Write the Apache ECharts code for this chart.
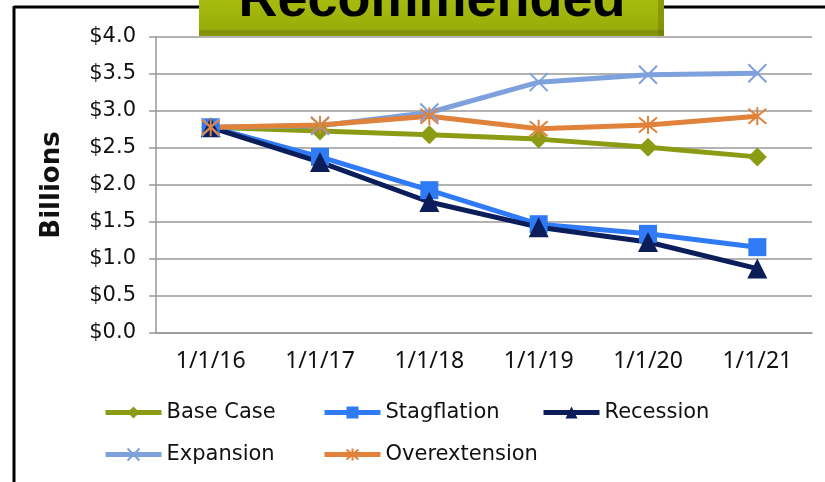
<!DOCTYPE html>
<html><head><meta charset="utf-8">
<script src="https://cdn.jsdelivr.net/npm/echarts@6/dist/echarts.min.js"></script>
<style>html,body{margin:0;padding:0;background:#fff}#c{width:825px;height:482px}</style>
</head><body><div id="c"></div>
<script>
const categories = ['1/1/16','1/1/17','1/1/18','1/1/19','1/1/20','1/1/21'];
const baseCase = [2.78, 2.73, 2.68, 2.62, 2.51, 2.38];
const stagflation = [2.78, 2.38, 1.93, 1.47, 1.34, 1.16];
const recession = [2.78, 2.31, 1.77, 1.43, 1.23, 0.87];
const expansion = [2.78, 2.80, 2.98, 3.39, 3.49, 3.51];
const overextension = [2.78, 2.81, 2.93, 2.76, 2.81, 2.93];
const seriesNames = ['Base Case', 'Stagflation', 'Recession', 'Expansion', 'Overextension'];
const yTicks = {min: 0, max: 4, interval: 0.5};

const FONT = 'DejaVu Sans';
const xPath = 'path://M0,0L10,10M10,0L0,10';
const starPath = 'path://M0,0L10,10M10,0L0,10M5,-1L5,11';

function mk(name, data, color, symbol, size, stroke) {
  return {
    name, type: 'line', data, symbol, symbolSize: size,
    lineStyle: {color, width: 5},
    itemStyle: stroke ? {color: 'none', borderColor: color, borderWidth: 2} : {color},
    z: 2
  };
}
const legendPos = [[103, 402], [322, 402], [541, 402], [103, 444], [322, 444]];
const legends = seriesNames.map((n, i) => ({
  data: [n], left: legendPos[i][0], top: legendPos[i][1], itemWidth: 56, itemHeight: 15, itemGap: 0,
  lineStyle: {width: 5}, textStyle: {fontFamily: FONT, fontSize: 21, color: '#111'}, padding: 0
}));

const chart = echarts.init(document.getElementById('c'), null, {renderer: 'canvas'});
chart.setOption({
  animation: false,
  grid: {left: 156, right: 13, top: 37, bottom: 149},
  xAxis: {
    type: 'category', data: categories, boundaryGap: true,
    axisLine: {lineStyle: {color: '#999', width: 1.5}},
    axisTick: {length: 7, lineStyle: {color: '#999', width: 1.5}},
    axisLabel: {color: '#111', fontFamily: 'Noto Sans', fontSize: 23, margin: 17}
  },
  yAxis: {
    type: 'value', min: yTicks.min, max: yTicks.max, interval: yTicks.interval,
    name: 'Billions', nameLocation: 'middle', nameGap: 91,
    nameTextStyle: {fontFamily: FONT, fontWeight: 'bold', fontSize: 26, color: '#111'},
    axisLine: {show: true, lineStyle: {color: '#999', width: 1.5}},
    axisTick: {show: true, length: 7, lineStyle: {color: '#999', width: 1.5}},
    splitLine: {lineStyle: {color: '#999', width: 1.5}},
    axisLabel: {color: '#111', fontFamily: FONT, fontSize: 21, margin: 20,
      formatter: v => '$' + v.toFixed(1)}
  },
  legend: legends,
  series: [
    mk('Base Case', baseCase, '#8c9b14', 'diamond', 19),
    mk('Stagflation', stagflation, '#2f7bf5', 'rect', 18),
    mk('Recession', recession, '#0b1e5a', 'triangle', 20),
    mk('Expansion', expansion, '#7ea0dc', xPath, 18, true),
    mk('Overextension', overextension, '#e0823a', starPath, 18, true)
  ],
  graphic: [
    {type: 'line', shape: {x1: 14, y1: 7, x2: 825, y2: 7}, style: {stroke: '#000', lineWidth: 3}, z: 10},
    {type: 'line', shape: {x1: 14, y1: 6, x2: 14, y2: 482}, style: {stroke: '#000', lineWidth: 3}, z: 10},
    {type: 'rect', shape: {x: 199, y: 0, width: 465, height: 36}, z: 20,
     style: {fill: new echarts.graphic.LinearGradient(0, 0, 0, 1, [
       {offset: 0, color: '#a6ba0e'}, {offset: 0.8, color: '#9aae0b'}, {offset: 0.88, color: '#7f8e08'}, {offset: 1, color: '#8a9a0a'}])}},
    {type: 'rect', shape: {x: 658, y: 0, width: 6, height: 36}, z: 21, style: {fill: 'rgba(90,100,0,0.35)'}},
    {type: 'text', x: 432, y: 1, z: 22,
     style: {text: 'Recommended', fontFamily: 'Liberation Sans', fontWeight: 'bold', fontSize: 54,
       fill: '#000', align: 'center', verticalAlign: 'middle'}}
  ]
});
</script></body></html>
